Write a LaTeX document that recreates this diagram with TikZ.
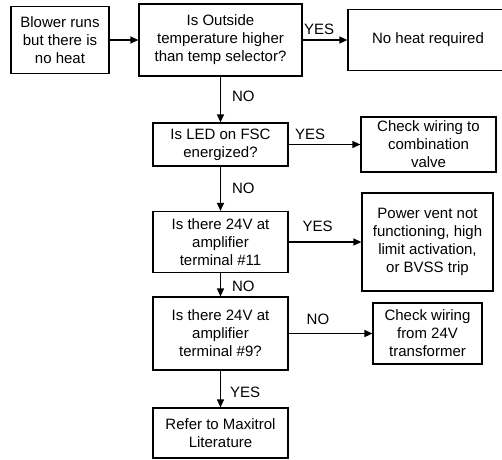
\documentclass[tikz,border=0pt]{standalone}
\usepackage{fontspec}
\setmainfont{Liberation Sans}
\usetikzlibrary{arrows.meta}
\begin{document}
\begin{tikzpicture}[x=1pt,y=-1pt,
  box/.style={draw,line width=1.2pt,align=center,inner sep=0pt,font=\fontsize{15}{18}\selectfont},
  flow/.style={line width=1.2pt,-{Triangle[length=8pt,width=7pt]}},
  lbl/.style={inner sep=0pt,font=\fontsize{15}{18}\selectfont}]
\useasboundingbox (0,0) rectangle (502,459);
\node[box,minimum width=98pt,minimum height=67pt] (blower) at (60,40) {Blower runs\\but there is\\no heat};
\node[box,minimum width=163pt,minimum height=72pt] (outside) at (220.5,40) {Is Outside\\temperature higher\\than temp selector?};
\node[box,minimum width=160pt,minimum height=61pt] (noheat) at (428,40) {No heat required};
\node[box,minimum width=135pt,minimum height=43pt] (led) at (220.5,144.5) {Is LED on FSC\\energized?};
\node[box,minimum width=135pt,minimum height=55pt] (wiring) at (428.5,144.5) {Check wiring to\\combination\\valve};
\node[box,minimum width=135pt,minimum height=61pt] (term11) at (220.5,242) {Is there 24V at\\amplifier\\terminal \#11};
\node[box,minimum width=131pt,minimum height=98pt] (vent) at (427.5,242) {Power vent not\\functioning, high\\limit activation,\\or BVSS trip};
\node[box,minimum width=135pt,minimum height=73pt] (term9) at (220.5,333.5) {Is there 24V at\\amplifier\\terminal \#9?};
\node[box,minimum width=109pt,minimum height=61pt] (trafo) at (427.5,333.5) {Check wiring\\from 24V\\transformer};
\node[box,minimum width=135pt,minimum height=50pt] (maxitrol) at (220.5,433) {Refer to Maxitrol\\Literature};
\draw[flow] (blower) -- (outside);
\draw[flow] (outside) -- (noheat) node[pos=0.37,lbl,anchor=south,yshift=5pt] {YES};
\draw[flow] (outside) -- (led) node[midway,lbl,anchor=west,xshift=11pt,yshift=3pt] {NO};
\draw[flow] (led) -- (wiring) node[pos=0.3,lbl,anchor=south,yshift=4pt] {YES};
\draw[flow] (led) -- (term11) node[midway,lbl,anchor=west,xshift=11pt] {NO};
\draw[flow] (term11) -- (vent) node[pos=0.4,lbl,anchor=south,yshift=10pt] {YES};
\draw[flow] (term11) -- (term9) node[midway,lbl,anchor=west,xshift=11pt,yshift=-2pt] {NO};
\draw[flow] (term9) -- (trafo) node[pos=0.35,lbl,anchor=south,yshift=8pt] {NO};
\draw[flow] (term9) -- (maxitrol) node[midway,lbl,anchor=west,xshift=9pt,yshift=-3pt] {YES};
\end{tikzpicture}
\end{document}
